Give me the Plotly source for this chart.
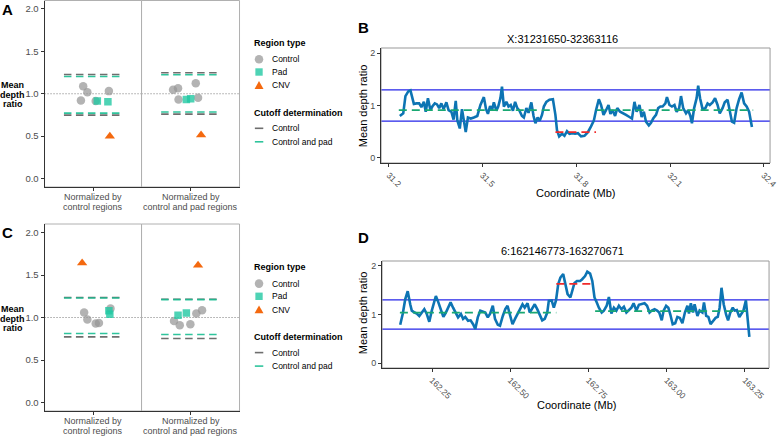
import plotly.graph_objects as go

# =========================
# CONFIG
# =========================
W, H = 783, 436
FONT = "Liberation Sans, Arial, sans-serif"

GRAY_PT = "rgba(150,150,150,0.72)"
TEAL_PT = "rgba(34,200,163,0.8)"
ORANGE = "#F4690F"
GRAY_LN = "rgba(85,85,85,0.85)"
TEAL_LN = "rgba(24,190,145,0.9)"
AXIS = "#333333"
BORDER = "#b0b0b0"
TICKTXT = "#4d4d4d"
BLUE_LINE = "#0D74B3"
BLUE_CUT = "#2424E8"
GREEN_SEG = "#19A872"
RED_SEG = "#F02A2A"

# =========================
# DATA - panel A (facet 1: control regions, facet 2: control and pad regions)
# =========================
facet_labels = ["Normalized by<br>control regions", "Normalized by<br>control and pad regions"]

a1_ctrl_x = [0.878, 0.93, 0.85, 1.033, 1.196]
a1_ctrl_y = [1.089, 1.019, 0.92, 0.914, 1.031]
a1_pad_x = [1.053, 1.184]
a1_pad_y = [0.914, 0.906]
a1_cnv_x = [1.208]
a1_cnv_y = [0.498]
a1_cut_ctrl = [1.227, 0.748]
a1_cut_pad = [1.204, 0.772]

a2_ctrl_x = [0.786, 0.847, 1.064, 0.853, 1.092]
a2_ctrl_y = [1.047, 1.066, 1.125, 0.933, 0.953]
a2_pad_x = [0.949, 1.002]
a2_pad_y = [0.933, 0.941]
a2_cnv_x = [1.129]
a2_cnv_y = [0.513]
a2_cut_ctrl = [1.247, 0.76]
a2_cut_pad = [1.224, 0.784]

# =========================
# DATA - panel C
# =========================
c1_ctrl_x = [0.89, 0.93, 1.033, 1.073, 1.216]
c1_ctrl_y = [1.059, 0.976, 0.929, 0.936, 1.106]
c1_pad_x = [1.196, 1.208]
c1_pad_y = [1.078, 1.039]
c1_cnv_x = [0.865]
c1_cnv_y = [1.642]
c1_cut_ctrl = [1.235, 0.772]
c1_cut_pad = [1.23, 0.812]

c2_ctrl_x = [0.798, 0.868, 0.998, 1.071, 1.141]
c2_ctrl_y = [0.96, 0.909, 0.921, 1.047, 1.086]
c2_pad_x = [0.847, 0.949]
c2_pad_y = [1.027, 1.054]
c2_cnv_x = [1.092]
c2_cnv_y = [1.615]
c2_cut_ctrl = [1.215, 0.753]
c2_cut_pad = [1.21, 0.80]

cut_x = [0.64, 1.35]

# =========================
# DATA - panel B (X:31231650-32363116)
# =========================
b_title = "X:31231650-32363116"
b_pos = [
    31.235, 31.246, 31.253, 31.262, 31.269, 31.280, 31.288, 31.297, 31.304, 31.312,
    31.318, 31.325, 31.333, 31.339, 31.347, 31.354, 31.361, 31.368, 31.375, 31.384,
    31.391, 31.400, 31.407, 31.414, 31.419, 31.427, 31.434, 31.440, 31.446, 31.453,
    31.462, 31.472, 31.483, 31.493, 31.499, 31.504, 31.511, 31.517, 31.524, 31.530,
    31.536, 31.544, 31.550, 31.557, 31.562, 31.568, 31.576, 31.583, 31.590, 31.597,
    31.604, 31.611, 31.618, 31.626, 31.632, 31.640, 31.647, 31.656, 31.663, 31.669,
    31.676, 31.683, 31.690, 31.696, 31.704, 31.714, 31.725, 31.733, 31.738, 31.745,
    31.754, 31.762, 31.770, 31.778, 31.787, 31.796, 31.805,
    31.815, 31.826, 31.837, 31.847, 31.856, 31.863, 31.872, 31.879, 31.887, 31.895,
    31.903, 31.909, 31.916, 31.924, 31.931, 31.940, 31.948, 31.959, 31.970, 31.978,
    31.986, 31.993, 32.002, 32.009, 32.016, 32.023, 32.032, 32.039, 32.046, 32.055,
    32.062, 32.069, 32.076, 32.085, 32.090, 32.098, 32.106, 32.114, 32.121, 32.129,
    32.135, 32.142, 32.151, 32.158, 32.165, 32.170, 32.177, 32.185, 32.190, 32.196,
    32.204, 32.213, 32.220, 32.227, 32.236, 32.244, 32.252, 32.259, 32.268, 32.275,
    32.284, 32.291, 32.298, 32.305, 32.313, 32.321, 32.329, 32.337, 32.345, 32.353, 32.362,
]
b_ratio = [
    0.80, 0.85, 1.18, 1.27, 1.29, 1.03, 1.04, 1.04, 0.97, 1.07,
    0.88, 1.14, 0.91, 0.98, 1.04, 1.02, 0.95, 1.04, 0.93, 1.06,
    0.91, 0.88, 0.73, 1.09, 0.72, 0.56, 0.93, 0.67, 0.49, 0.77,
    0.75, 0.77, 0.80, 1.01, 1.11, 1.16, 0.93, 0.84, 0.99, 0.91,
    1.06, 0.90, 0.98, 1.14, 1.36, 0.98, 1.07, 0.98, 1.01, 0.90,
    1.07, 0.95, 0.90, 0.80, 0.77, 0.95, 0.86, 1.06, 0.80, 0.66,
    0.77, 0.71, 0.82, 0.98, 1.07, 1.11, 1.12, 0.82, 0.53, 0.41,
    0.46, 0.42, 0.51, 0.46, 0.47, 0.46, 0.47,
    0.41, 0.42, 0.49, 0.60, 0.71, 0.91, 1.12, 1.01, 0.82, 0.91,
    1.01, 0.84, 0.91, 0.80, 0.95, 0.88, 0.86, 0.82, 0.78, 0.75,
    1.07, 0.88, 1.01, 0.78, 0.88, 0.69, 0.62, 0.67, 0.75, 0.82,
    0.95, 0.98, 0.98, 1.04, 1.16, 1.01, 0.98, 1.01, 0.88, 0.95,
    1.18, 0.95, 0.85, 0.91, 0.80, 0.66, 0.95, 1.14, 1.38, 1.14,
    0.93, 0.95, 1.04, 1.01, 1.06, 1.14, 1.01, 0.85, 0.95, 1.06,
    1.11, 0.91, 0.69, 0.67, 0.95, 1.12, 1.25, 1.04, 0.98, 0.88, 0.59,
]
b_seg_start = [31.2317, 31.733, 31.865]
b_seg_end = [31.730, 31.863, 32.366]
b_seg_level = [0.91, 0.49, 0.91]
b_seg_cnv = [False, True, False]
b_ticks = [31.2, 31.5, 31.8, 32.1, 32.4]
b_ticklabels = ["31.2", "31.5", "31.8", "32.1", "32.4"]

# =========================
# DATA - panel D (6:162146773-163270671)
# =========================
d_title = "6:162146773-163270671"
d_pos = [
    162.148, 162.156, 162.164, 162.172, 162.180, 162.185, 162.194, 162.201, 162.209, 162.217,
    162.225, 162.233, 162.241, 162.249, 162.256, 162.262, 162.270, 162.278, 162.286, 162.294,
    162.301, 162.309, 162.317, 162.325, 162.333, 162.342, 162.349, 162.356, 162.365, 162.373,
    162.381, 162.388, 162.396, 162.404, 162.412, 162.420, 162.428, 162.435, 162.444, 162.451,
    162.460, 162.467, 162.476, 162.484, 162.491, 162.499, 162.507, 162.515, 162.523, 162.531,
    162.539, 162.546, 162.555, 162.562, 162.570, 162.578, 162.586, 162.594, 162.602, 162.610,
    162.618, 162.623, 162.632, 162.639, 162.646, 162.653, 162.660, 162.669, 162.676, 162.683,
    162.692, 162.699, 162.705, 162.713, 162.723,
    162.729, 162.739, 162.746, 162.755, 162.762, 162.769, 162.776, 162.783, 162.792, 162.799,
    162.808, 162.815, 162.823, 162.831, 162.839, 162.847, 162.855, 162.863, 162.871, 162.878,
    162.887, 162.894, 162.903, 162.911, 162.918, 162.929, 162.937, 162.945, 162.952, 162.961,
    162.969, 162.976, 162.984, 162.990, 162.998, 163.005, 163.011, 163.019, 163.027, 163.034,
    163.042, 163.050, 163.058, 163.066, 163.071, 163.077, 163.084, 163.089, 163.098, 163.105,
    163.114, 163.119, 163.126, 163.133, 163.140, 163.148, 163.156, 163.163, 163.169, 163.175,
    163.182, 163.190, 163.196, 163.203, 163.211, 163.217, 163.224, 163.232, 163.238, 163.245,
    163.253, 163.258, 163.264,
]
d_ratio = [
    0.79, 1.01, 1.31, 1.48, 1.21, 1.08, 1.04, 1.02, 0.97, 1.04,
    1.11, 1.01, 0.85, 1.08, 1.25, 1.38, 1.25, 1.08, 0.95, 1.04,
    1.13, 1.25, 1.14, 1.04, 0.94, 1.01, 0.91, 0.95, 0.87, 0.88,
    0.80, 0.70, 0.94, 1.08, 1.06, 1.04, 0.94, 1.01, 1.18, 0.91,
    0.79, 0.77, 0.97, 1.11, 1.18, 0.97, 0.80, 0.91, 1.02, 1.11,
    1.21, 1.14, 1.23, 1.04, 1.14, 1.21, 1.11, 1.01, 0.88, 0.91,
    1.04, 1.28, 1.29, 1.14, 1.29, 1.62, 1.76, 1.83, 1.59, 1.42,
    1.35, 1.52, 1.65, 1.69, 1.69,
    1.72, 1.79, 1.88, 1.84, 1.69, 1.35, 1.25, 1.14, 1.04, 1.08,
    1.18, 1.36, 1.02, 1.14, 1.08, 1.18, 1.11, 1.16, 1.04, 1.08,
    1.14, 1.23, 1.08, 1.20, 1.21, 1.23, 1.18, 1.04, 1.08, 1.11,
    1.08, 1.04, 0.88, 1.08, 1.18, 1.14, 1.01, 0.80, 0.82, 0.95,
    0.93, 0.82, 1.04, 1.18, 1.02, 1.23, 1.04, 1.21, 0.97, 1.08,
    1.04, 1.25, 0.97, 0.95, 0.80, 0.87, 0.93, 0.95, 1.14, 1.55,
    1.21, 0.99, 0.88, 1.04, 1.14, 1.08, 1.09, 0.95, 1.02, 1.08,
    1.29, 0.97, 0.54,
]
d_seg_start = [162.147, 162.647, 162.771]
d_seg_end = [162.647, 162.769, 163.269]
d_seg_level = [1.04, 1.63, 1.07]
d_seg_cnv = [False, True, False]
d_ticks = [162.25, 162.50, 162.75, 163.00, 163.25]
d_ticklabels = ["162.25", "162.50", "162.75", "163.00", "163.25"]

cnv_cutoffs = [1.3, 0.7]

assert len(b_pos) == len(b_ratio)
assert len(d_pos) == len(d_ratio)


# =========================
# HELPERS (pixel -> paper)
# =========================
def fx(p):
    return p / W


def fy(p):
    return 1 - p / H


def sfx(n):
    return "" if n == 1 else str(n)


fig = go.Figure()
shapes = []
annotations = []


def note(text, x, y, size=9, color="black", xanchor="center", angle=0):
    annotations.append(dict(
        text=text, x=fx(x), y=fy(y), xref="paper", yref="paper",
        xanchor=xanchor, yanchor="middle", showarrow=False, textangle=angle,
        font=dict(family=FONT, size=size, color=color),
    ))


def cut_trace(vals, color, xa, ya):
    xs, ys = [], []
    for v in vals:
        xs += [cut_x[0], cut_x[1], None]
        ys += [v, v, None]
    return go.Scatter(x=xs, y=ys, mode="lines", xaxis=xa, yaxis=ya, hoverinfo="skip",
                      line=dict(color=color, width=1.6, dash="7.5px,4.5px"))


def add_facet(n, ctrl_x, ctrl_y, pad_x, pad_y, cnv_x, cnv_y, cut_ctrl, cut_pad):
    xa, ya = "x" + sfx(n), "y" + sfx(n)
    fig.add_trace(cut_trace(cut_ctrl, GRAY_LN, xa, ya))
    fig.add_trace(cut_trace(cut_pad, TEAL_LN, xa, ya))
    fig.add_trace(go.Scatter(x=ctrl_x, y=ctrl_y, mode="markers", xaxis=xa, yaxis=ya,
                             marker=dict(symbol="circle", size=8.5, color=GRAY_PT, line_width=0)))
    fig.add_trace(go.Scatter(x=pad_x, y=pad_y, mode="markers", xaxis=xa, yaxis=ya,
                             marker=dict(symbol="square", size=7.5, color=TEAL_PT, line_width=0)))
    fig.add_trace(go.Scatter(x=cnv_x, y=cnv_y, mode="markers", xaxis=xa, yaxis=ya,
                             marker=dict(symbol="triangle-up", size=9, color=ORANGE, line_width=0)))
    shapes.append(dict(type="line", xref=xa + " domain", yref=ya, x0=0, x1=1, y0=1, y1=1,
                       line=dict(color="#777777", width=1, dash="1px,2px"), layer="below"))


add_facet(1, a1_ctrl_x, a1_ctrl_y, a1_pad_x, a1_pad_y, a1_cnv_x, a1_cnv_y, a1_cut_ctrl, a1_cut_pad)
add_facet(2, a2_ctrl_x, a2_ctrl_y, a2_pad_x, a2_pad_y, a2_cnv_x, a2_cnv_y, a2_cut_ctrl, a2_cut_pad)
add_facet(3, c1_ctrl_x, c1_ctrl_y, c1_pad_x, c1_pad_y, c1_cnv_x, c1_cnv_y, c1_cut_ctrl, c1_cut_pad)
add_facet(4, c2_ctrl_x, c2_ctrl_y, c2_pad_x, c2_pad_y, c2_cnv_x, c2_cnv_y, c2_cut_ctrl, c2_cut_pad)


def add_track(n, pos, ratio, s0, s1, lev, cnv):
    xa, ya = "x" + sfx(n), "y" + sfx(n)
    for v in cnv_cutoffs:
        shapes.append(dict(type="line", xref=xa + " domain", yref=ya, x0=0, x1=1, y0=v, y1=v,
                           line=dict(color=BLUE_CUT, width=1.2), layer="below"))
    fig.add_trace(go.Scatter(x=pos, y=ratio, mode="lines", xaxis=xa, yaxis=ya,
                             line=dict(color=BLUE_LINE, width=2.6)))
    for a, b, v, c in zip(s0, s1, lev, cnv):
        fig.add_trace(go.Scatter(x=[a, b], y=[v, v], mode="lines", xaxis=xa, yaxis=ya,
                                 line=dict(color=RED_SEG if c else GREEN_SEG, width=1.8,
                                           dash="8px,5px")))


add_track(5, b_pos, b_ratio, b_seg_start, b_seg_end, b_seg_level, b_seg_cnv)
add_track(6, d_pos, d_ratio, d_seg_start, d_seg_end, d_seg_level, d_seg_cnv)

# =========================
# AXES
# =========================
layout_axes = {}
tick_style = dict(ticks="outside", ticklen=3, tickcolor=AXIS, tickwidth=1,
                  showgrid=False, zeroline=False, showline=True, linecolor=AXIS, linewidth=1)

facet_boxes = {1: (45, 143, 0.5, 187), 2: (143, 242, 0.5, 187),
               3: (45, 143, 224, 411), 4: (143, 242, 224, 411)}
for n, (l, r, t, b) in facet_boxes.items():
    layout_axes["xaxis" + sfx(n)] = dict(domain=[fx(l), fx(r)], range=[0.4, 1.6],
                                         anchor="y" + sfx(n), tickvals=[1],
                                         showticklabels=False, **tick_style)
    yax = dict(domain=[fy(b), fy(t)], range=[-0.1, 2.1], anchor="x" + sfx(n), showgrid=False,
               zeroline=False)
    if n in (1, 3):
        yax.update(tick_style)
        yax.update(tickvals=[0, 0.5, 1, 1.5, 2], ticktext=["0.0", "0.5", "1.0", "1.5", "2.0"],
                   tickfont=dict(family=FONT, size=9.5, color=TICKTXT))
    else:
        yax.update(showticklabels=False, showline=False, ticks="")
    layout_axes["yaxis" + sfx(n)] = yax
    shapes.append(dict(type="rect", xref="paper", yref="paper", x0=fx(l), x1=fx(r),
                       y0=fy(b), y1=fy(t), line=dict(color=BORDER, width=1), layer="below"))
    cx = (l + r) / 2
    lines = facet_labels[(n - 1) % 2].split("<br>")
    note(lines[0], cx, b + 10, size=9, color=TICKTXT)
    note(lines[1], cx, b + 20, size=9, color=TICKTXT)

track_boxes = {5: (385, 778, 48, 163, [31.175, 32.42], b_ticks, b_ticklabels),
               6: (386, 777, 261, 368, [162.09, 163.327], d_ticks, d_ticklabels)}
for n, (l, r, t, b, xr, tv, tt) in track_boxes.items():
    layout_axes["xaxis" + sfx(n)] = dict(domain=[fx(l), fx(r)], range=xr, anchor="y" + sfx(n),
                                         tickvals=tv, ticktext=tt, tickangle=45,
                                         ticklabeloverflow="allow",
                                         tickfont=dict(family=FONT, size=8.5, color=TICKTXT),
                                         **tick_style)
    layout_axes["yaxis" + sfx(n)] = dict(domain=[fy(b), fy(t)], range=[-0.1, 2.1],
                                         anchor="x" + sfx(n), tickvals=[0, 1, 2],
                                         tickfont=dict(family=FONT, size=9, color=TICKTXT),
                                         **tick_style)
    shapes.append(dict(type="rect", xref="paper", yref="paper", x0=fx(l), x1=fx(r),
                       y0=fy(b), y1=fy(t), line=dict(color="#999999", width=1), layer="below"))

# =========================
# TEXTS
# =========================
for letter, x, y in [("A", 8, 10), ("B", 367, 27), ("C", 8, 233), ("D", 367, 238)]:
    note(f"<b>{letter}</b>", x, y, size=15)

for dy in (0, 224):
    note("<b>Mean</b>", 13, 85 + dy, size=9)
    note("<b>depth</b>", 13, 94.5 + dy, size=9)
    note("<b>ratio</b>", 13, 104 + dy, size=9)

note(b_title, 568, 39, size=11)
note("Mean depth ratio", 367, 106, size=11, angle=-90)
note("Coordinate (Mb)", 581, 193, size=11)
note(d_title, 568, 251, size=11)
note("Mean depth ratio", 367, 313, size=11, angle=-90)
note("Coordinate (Mb)", 582, 405, size=11)


# =========================
# LEGENDS (drawn by hand, ggplot style)
# =========================
def legend_block(dy):
    kx = 261.7
    tx = 272.5
    note("<b>Region type</b>", 255, 43 + dy, size=9, xanchor="left")
    cy = 59.3 + dy
    shapes.append(dict(type="circle", xref="paper", yref="paper", x0=fx(kx - 4.3), x1=fx(kx + 4.3),
                       y0=fy(cy + 4.3), y1=fy(cy - 4.3), fillcolor=GRAY_PT, line_width=0))
    note("Control", tx, cy, size=8.5, xanchor="left")
    cy = 72 + dy
    shapes.append(dict(type="rect", xref="paper", yref="paper", x0=fx(kx - 3.7), x1=fx(kx + 3.7),
                       y0=fy(cy + 3.7), y1=fy(cy - 3.7), fillcolor=TEAL_PT, line_width=0))
    note("Pad", tx, cy, size=8.5, xanchor="left")
    cy = 85.3 + dy
    path = (f"M{fx(kx - 4.5)},{fy(cy + 3.6)} L{fx(kx + 4.5)},{fy(cy + 3.6)} "
            f"L{fx(kx)},{fy(cy - 4.2)} Z")
    shapes.append(dict(type="path", xref="paper", yref="paper", path=path,
                       fillcolor=ORANGE, line_width=0))
    note("CNV", tx, cy, size=8.5, xanchor="left")
    note("<b>Cutoff determination</b>", 255, 113 + dy, size=9, xanchor="left")
    for cy, col, lab in [(128.3 + dy, GRAY_LN, "Control"), (141.8 + dy, TEAL_LN, "Control and pad")]:
        shapes.append(dict(type="line", xref="paper", yref="paper", x0=fx(257.5), x1=fx(266),
                           y0=fy(cy), y1=fy(cy), line=dict(color=col, width=1.6)))
        note(lab, tx, cy, size=8.5, xanchor="left")


legend_block(0)
legend_block(224.3)

fig.update_layout(
    width=W, height=H,
    margin=dict(l=0, r=0, t=0, b=0),
    paper_bgcolor="white", plot_bgcolor="white",
    showlegend=False,
    font=dict(family=FONT),
    shapes=shapes,
    annotations=annotations,
    **layout_axes,
)

# page body has a default margin; drop it so the figure sits at the window corner
fig.write_html("out.html", config={"displayModeBar": False},
               post_script="document.body.style.margin='0px';")
